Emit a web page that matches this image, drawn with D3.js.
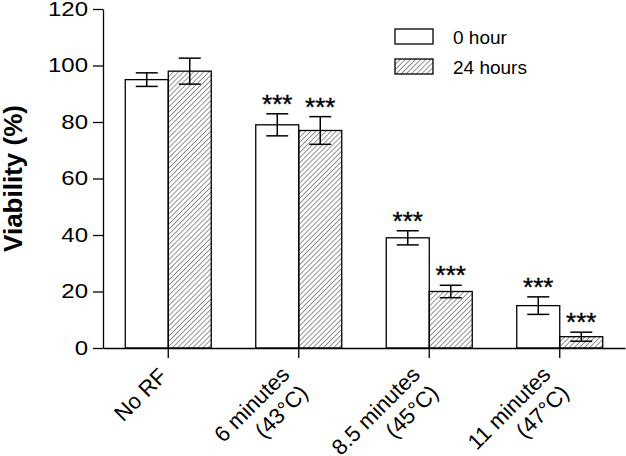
<!DOCTYPE html>
<html>
<head>
<meta charset="utf-8">
<script src="https://cdn.jsdelivr.net/npm/d3@7"></script>
<style>
  html, body { margin: 0; padding: 0; background: #fff; }
  svg { display: block; font-family: "Liberation Sans", Arial, Helvetica, sans-serif; }
</style>
</head>
<body>
<svg id="chart" width="626" height="456"></svg>
<script>
// ---- data ----
const categories = [["No RF"], ["6 minutes", "(43°C)"], ["8.5 minutes", "(45°C)"], ["11 minutes", "(47°C)"]];
const seriesNames = ["0 hour", "24 hours"];
const hour0 = [95, 79, 39, 15];
const hour0Err = [2.4, 3.9, 2.5, 3.1];
const hour24 = [98, 77, 20, 4];
const hour24Err = [4.6, 4.9, 2.2, 1.6];
const hour0Sig = ["", "***", "***", "***"];
const hour24Sig = ["", "***", "***", "***"];
const yTicks = [0, 20, 40, 60, 80, 100, 120];
const yTitle = "Viability (%)";

// ---- layout ----
const svg = d3.select("#chart");
const mLeft = 103, mRight = 625, mTop = 9, mBottom = 348;
const catKeys = categories.map(c => c.join(" "));
const x = d3.scaleBand().domain(catKeys).range([mLeft, mRight]).padding(0);
const y = d3.scaleLinear().domain([0, 120]).range([mBottom, mTop]);
const barW = 43;
const xs = d3.scaleBand().domain(seriesNames).range([-barW, barW]).padding(0);

// hatch pattern
const defs = svg.append("defs");
defs.append("pattern")
  .attr("id", "hatch")
  .attr("patternUnits", "userSpaceOnUse")
  .attr("width", 3.6).attr("height", 3.6)
  .attr("patternTransform", "rotate(45)")
  .append("line")
  .attr("x1", 0).attr("y1", 0).attr("x2", 0).attr("y2", 3.6)
  .attr("stroke", "#111").attr("stroke-width", 0.9);

const rows = catKeys.map((k, i) => ({
  key: k,
  vals: [
    { s: seriesNames[0], v: hour0[i], e: hour0Err[i], sig: hour0Sig[i] },
    { s: seriesNames[1], v: hour24[i], e: hour24Err[i], sig: hour24Sig[i] }
  ]
}));
const fillFor = s => s === seriesNames[0] ? "#fff" : "url(#hatch)";

const g = svg.append("g");
const groups = g.selectAll("g.grp").data(rows).join("g")
  .attr("class", "grp")
  .attr("transform", d => `translate(${x(d.key) + x.bandwidth() / 2},0)`);

groups.selectAll("rect").data(d => d.vals).join("rect")
  .attr("x", d => xs(d.s))
  .attr("width", xs.bandwidth())
  .attr("y", d => y(d.v))
  .attr("height", d => y(0) - y(d.v))
  .attr("fill", d => fillFor(d.s))
  .attr("stroke", "#000").attr("stroke-width", 1.3);

// error bars
const cap = 11;
const eb = groups.selectAll("g.eb").data(d => d.vals).join("g").attr("class", "eb")
  .attr("transform", d => `translate(${xs(d.s) + xs.bandwidth() / 2},0)`);
eb.append("line").attr("x1", 0).attr("x2", 0)
  .attr("y1", d => y(d.v + d.e)).attr("y2", d => y(d.v - d.e));
eb.append("line").attr("x1", -cap).attr("x2", cap)
  .attr("y1", d => y(d.v + d.e)).attr("y2", d => y(d.v + d.e));
eb.append("line").attr("x1", -cap).attr("x2", cap)
  .attr("y1", d => y(d.v - d.e)).attr("y2", d => y(d.v - d.e));
eb.selectAll("line").attr("stroke", "#000").attr("stroke-width", 1.5);

// significance stars
eb.append("text")
  .attr("text-anchor", "middle")
  .attr("x", 0)
  .attr("y", d => y(d.v + d.e) - 1)
  .attr("font-size", 26)
  .attr("stroke", "#000").attr("stroke-width", 0.4)
  .text(d => d.sig);

// ---- y axis ----
const yAxis = d3.axisLeft(y).tickValues(yTicks).tickSize(10).tickPadding(4).tickSizeOuter(0);
const ya = svg.append("g").attr("transform", `translate(${mLeft},0)`).call(yAxis);
ya.select(".domain").attr("stroke", "#000").attr("stroke-width", 1.3);
ya.selectAll(".tick line").attr("stroke", "#000").attr("stroke-width", 1.3);
const sx = 1.2;
ya.selectAll(".tick text")
  .attr("font-size", 20).attr("fill", "#000")
  .attr("font-family", "'Liberation Sans', Arial, sans-serif")
  .attr("x", -15 / sx)
  .attr("transform", `scale(${sx},1)`);

// ---- x axis ----
const xAxis = d3.axisBottom(x).tickSize(10).tickSizeOuter(0).tickFormat("");
const xa = svg.append("g").attr("transform", `translate(0,${mBottom})`).call(xAxis);
xa.select(".domain").attr("stroke", "#000").attr("stroke-width", 1.3);
xa.selectAll(".tick line").attr("stroke", "#000").attr("stroke-width", 1.3);

// rotated category labels
const lab = svg.append("g").selectAll("text").data(categories).join("text")
  .attr("text-anchor", "end")
  .attr("font-size", 22)
  .attr("transform", (d, i) => {
    const cx = x(catKeys[i]) + x.bandwidth() / 2;
    const dx = d.length > 1 ? -8 : 0;
    const yy = d.length > 1 ? 376 : 377.5;
    return `translate(${cx + dx},${yy}) rotate(-45)`;
  });
lab.selectAll("tspan").data(d => d).join("tspan")
  .attr("x", 0)
  .attr("dy", (d, i) => i === 0 ? 0 : 26)
  .text(d => d);

// y title
svg.append("text")
  .attr("transform", `translate(21.5,${(mTop + mBottom) / 2}) rotate(-90)`)
  .attr("text-anchor", "middle")
  .attr("font-size", 26)
  .attr("font-weight", "bold")
  .text(yTitle);

// ---- legend ----
const leg = svg.append("g").attr("transform", "translate(395,29)");
const li = leg.selectAll("g").data(seriesNames).join("g")
  .attr("transform", (d, i) => `translate(0,${i * 30})`);
li.append("rect").attr("width", 38).attr("height", 15)
  .attr("fill", d => fillFor(d)).attr("stroke", "#000").attr("stroke-width", 1.3);
li.append("text").attr("x", 58).attr("y", 14.5).attr("font-size", 19).text(d => d);
</script>
</body>
</html>
